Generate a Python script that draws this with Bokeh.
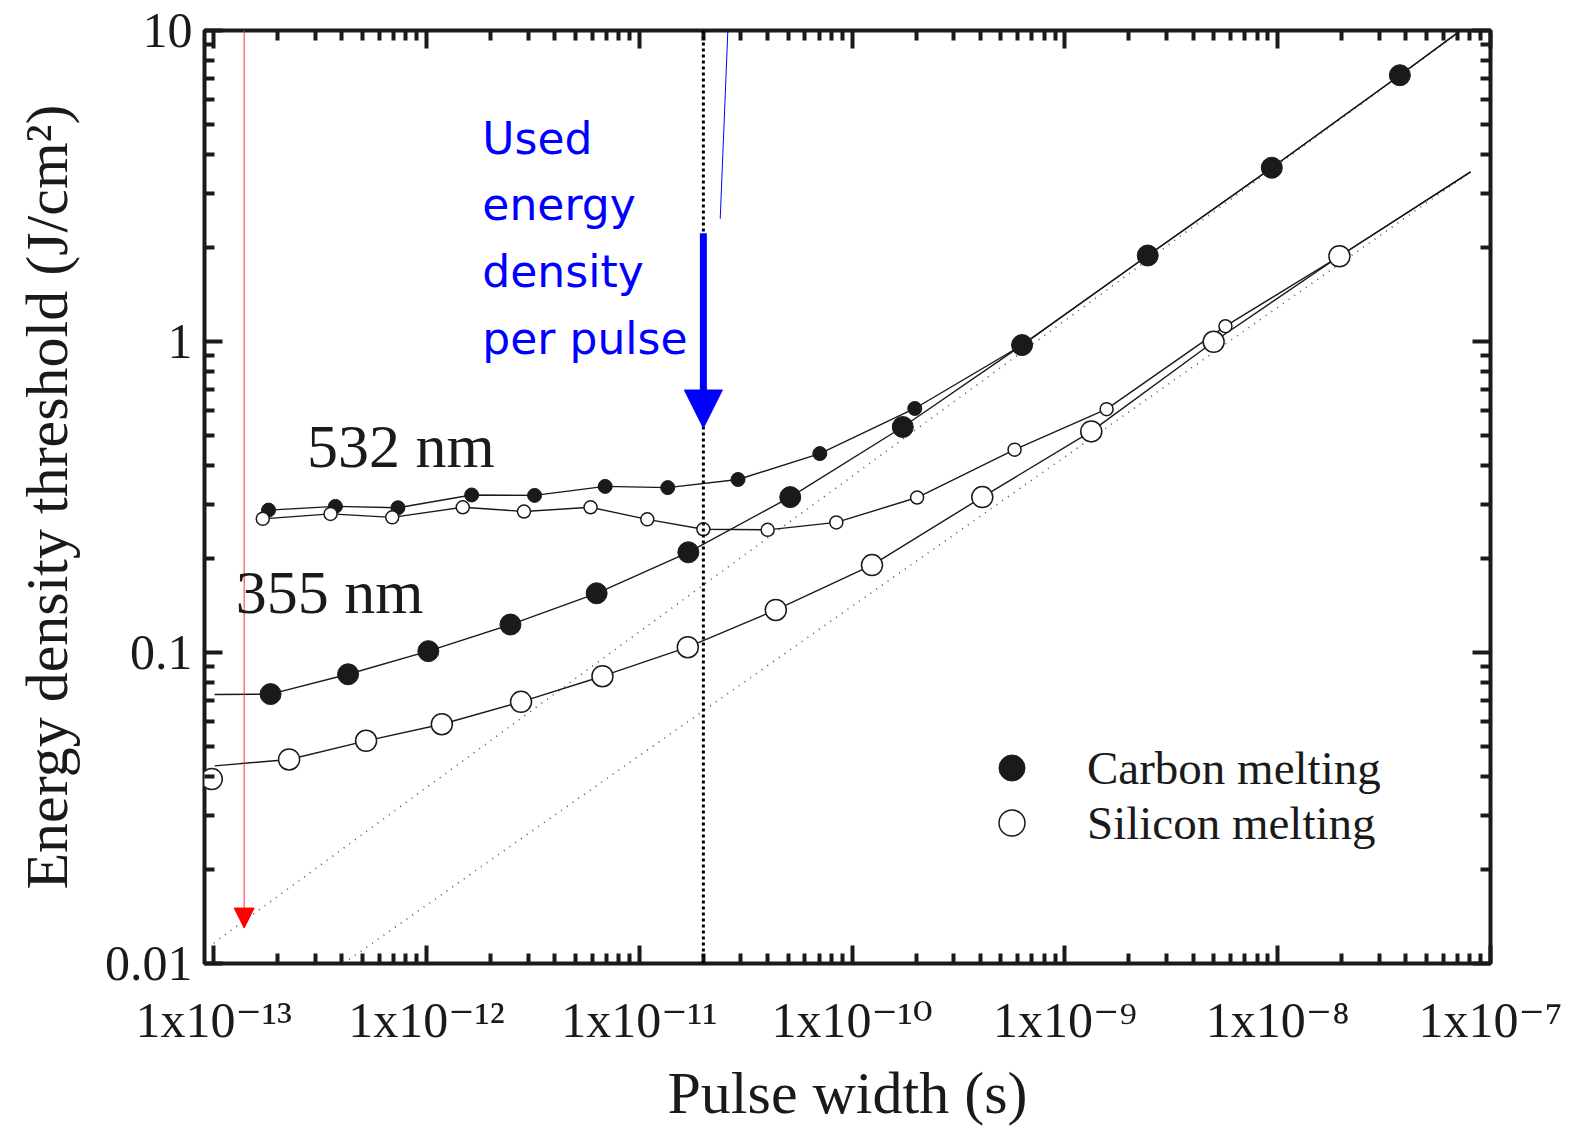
from bokeh.plotting import figure
from bokeh.models import (LogAxis, FixedTicker, Range1d, Legend, LegendItem,
                          Arrow, NormalHead, Label, Span)
from bokeh.embed import file_html
from bokeh.resources import INLINE

# ---------------- data ----------------
# 532 nm, carbon melting (small filled dots)
c532_x = [1.81e-13, 3.73e-13, 7.34e-13, 1.63e-12, 3.22e-12, 6.91e-12,
          1.36e-11, 2.91e-11, 7.05e-11, 1.97e-10]
c532_y = [0.287, 0.295, 0.292, 0.321, 0.320, 0.342, 0.339, 0.360, 0.436, 0.609]

# 532 nm, silicon melting (small open circles)
s532_x = [1.70e-13, 3.54e-13, 6.90e-13, 1.48e-12, 2.87e-12, 5.90e-12,
          1.09e-11, 2.00e-11, 4.01e-11, 8.43e-11, 2.02e-10, 5.80e-10,
          1.57e-9, 5.68e-9]
s532_y = [0.269, 0.279, 0.272, 0.293, 0.284, 0.293, 0.268, 0.249, 0.248,
          0.262, 0.315, 0.449, 0.606, 1.12]

# 355 nm, carbon melting (large filled dots)
c355_x = [1.85e-13, 4.28e-13, 1.02e-12, 2.48e-12, 6.30e-12, 1.70e-11,
          5.12e-11, 1.73e-10, 6.29e-10, 2.45e-9, 9.38e-9, 3.75e-8]
c355_y = [0.0735, 0.0851, 0.101, 0.123, 0.155, 0.210, 0.316, 0.531, 0.974,
          1.89, 3.62, 7.18]

# 355 nm, silicon melting (large open circles)
s355_x = [9.79e-14, 2.26e-13, 5.20e-13, 1.18e-12, 2.78e-12, 6.71e-12,
          1.69e-11, 4.38e-11, 1.24e-10, 4.09e-10, 1.33e-9, 5.00e-9, 1.95e-8]
s355_y = [0.0392, 0.0453, 0.0520, 0.0588, 0.0694, 0.0839, 0.104, 0.137,
          0.191, 0.316, 0.514, 0.998, 1.88]

# fitted 355 nm curves: start / end points
c355_fit_ends_x = [1.01e-13, 7.83e-8]
c355_fit_ends_y = [0.0733, 10.4]
s355_fit_ends_x = [1.01e-13, 8.06e-8]
s355_fit_ends_y = [0.0432, 3.51]

# dotted long-pulse asymptotes (E ~ t^0.5)
asym_c_x = [1.00e-13, 7.31e-8]
asym_c_y = [0.01163, 10.0]
asym_s_x = [4.07e-13, 8.06e-8]
asym_s_y = [0.0100, 3.51]

# annotation: used pulse width and energy density
used_pulse = 2.0e-11
used_arrow_y = [2.23, 0.527]
red_arrow_x = 1.39e-13
red_arrow_y = [12.4, 0.0130]
blue_line_x = [2.40e-11, 2.64e-11]
blue_line_y = [2.48, 12.4]
note_lines = ["Used", "energy", "density", "per pulse"]
note_x = 1.83e-12
note_y = [4.50, 2.75, 1.68, 1.025]

# ticks
xticks = [1e-13, 1e-12, 1e-11, 1e-10, 1e-9, 1e-8, 1e-7]
xtick_labels = ["1x10\u207b\u00b9\u00b3", "1x10\u207b\u00b9\u00b2",
                "1x10\u207b\u00b9\u00b9", "1x10\u207b\u00b9\u2070",
                "1x10\u207b\u2079", "1x10\u207b\u2078", "1x10\u207b\u2077"]
yticks = [0.01, 0.1, 1.0, 10.0]
ytick_labels = ["0.01", "0.1", "1", "10"]

x_minor = [m * 10.0 ** e for e in range(-14, -6) for m in range(2, 10)]
y_minor = [m * 10.0 ** e for e in range(-3, 2) for m in range(2, 10)]

INK = "#1a1a1a"
SERIF = "Liberation Serif"
SERIF_STACK = "'Liberation Serif', 'DejaVu Serif', serif"

# ---------------- figure ----------------
p = figure(width=1574, height=1128, x_axis_type="log", y_axis_type="log",
           x_range=Range1d(9.05e-14, 1e-7), y_range=Range1d(0.01, 10),
           output_backend="svg", toolbar_location=None,
           min_border_left=204, min_border_right=84,
           min_border_top=30, min_border_bottom=165)
p.background_fill_color = "white"
p.border_fill_color = "white"
p.xgrid.visible = False
p.ygrid.visible = False
p.outline_line_color = INK
p.outline_line_width = 4


def style_axis(ax, ticks, minor, labels=None):
    ax.ticker = FixedTicker(ticks=ticks, minor_ticks=minor)
    ax.axis_line_color = None
    ax.major_tick_in = 18
    ax.major_tick_out = 0
    ax.minor_tick_in = 10
    ax.minor_tick_out = 0
    ax.major_tick_line_width = 4
    ax.minor_tick_line_width = 4
    ax.major_tick_line_color = INK
    ax.minor_tick_line_color = INK
    if labels is None:
        ax.major_label_text_font_size = "2px"
        ax.major_label_text_color = None
        ax.major_label_standoff = 0
    else:
        ax.major_label_overrides = {t: l for t, l in zip(ticks, labels)}
        ax.major_label_text_font = SERIF_STACK
        ax.major_label_text_font_size = "50px"
        ax.major_label_text_color = INK
    ax.axis_label_text_font = SERIF
    ax.axis_label_text_font_style = "normal"
    ax.axis_label_text_font_size = "60px"
    ax.axis_label_text_color = INK


style_axis(p.xaxis[0], xticks, x_minor, xtick_labels)
style_axis(p.yaxis[0], yticks, y_minor, ytick_labels)
p.xaxis[0].axis_label = "Pulse width (s)"
p.yaxis[0].axis_label = "Energy density threshold (J/cm\u00b2)"
p.xaxis[0].major_label_standoff = 28
p.xaxis[0].axis_label_standoff = 9
p.yaxis[0].major_label_standoff = 12
p.yaxis[0].axis_label_standoff = 22

top_ax = LogAxis()
style_axis(top_ax, xticks, x_minor)
p.add_layout(top_ax, "above")
right_ax = LogAxis()
style_axis(right_ax, yticks, y_minor)
p.add_layout(right_ax, "right")

# dotted asymptotes
p.line(asym_c_x, asym_c_y, line_color="#555555", line_width=1.6, line_dash="1 6")
p.line(asym_s_x, asym_s_y, line_color="#555555", line_width=1.6, line_dash="1 6")

# connecting lines / fits
c532_line_x = c532_x + c355_x[8:] + c355_fit_ends_x[1:]
c532_line_y = c532_y + c355_y[8:] + c355_fit_ends_y[1:]
s532_line_x = s532_x + s355_x[12:] + s355_fit_ends_x[1:]
s532_line_y = s532_y + s355_y[12:] + s355_fit_ends_y[1:]
c355_line_x = c355_fit_ends_x[:1] + c355_x + c355_fit_ends_x[1:]
c355_line_y = c355_fit_ends_y[:1] + c355_y + c355_fit_ends_y[1:]
s355_line_x = s355_fit_ends_x[:1] + s355_x[1:] + s355_fit_ends_x[1:]
s355_line_y = s355_fit_ends_y[:1] + s355_y[1:] + s355_fit_ends_y[1:]

for lx, ly in [(c532_line_x, c532_line_y), (s532_line_x, s532_line_y),
               (c355_line_x, c355_line_y), (s355_line_x, s355_line_y)]:
    p.line(lx, ly, line_color=INK, line_width=1.4)

# markers
r_c532 = p.scatter(c532_x, c532_y, size=14, marker="circle",
                   fill_color=INK, line_color=INK)
r_s532 = p.scatter(s532_x, s532_y, size=13, marker="circle",
                   fill_color="white", line_color=INK, line_width=1.5)
r_c355 = p.scatter(c355_x, c355_y, size=21, marker="circle",
                   fill_color=INK, line_color=INK)
r_s355 = p.scatter(s355_x, s355_y, size=21, marker="circle",
                   fill_color="white", line_color=INK, line_width=1.5)

# vertical dotted line at the used pulse width
p.add_layout(Span(location=used_pulse, dimension="height", line_color="black",
                  line_width=3, line_dash="3 3"))

# blue arrow
p.add_layout(Arrow(x_start=used_pulse, y_start=used_arrow_y[0],
                   x_end=used_pulse, y_end=used_arrow_y[1],
                   line_color="#0000ff", line_width=7,
                   end=NormalHead(size=38, fill_color="#0000ff",
                                  line_color="#0000ff", line_width=1)))
# blue thin pointer line
p.line(blue_line_x, blue_line_y, line_color="#0000ff", line_width=1)

# red arrow
p.add_layout(Arrow(x_start=red_arrow_x, y_start=red_arrow_y[0],
                   x_end=red_arrow_x, y_end=red_arrow_y[1],
                   line_color="#ff3030", line_width=1,
                   end=NormalHead(size=20, fill_color="red",
                                  line_color="red", line_width=1)))

# text annotations
for t, yy in zip(note_lines, note_y):
    p.add_layout(Label(x=note_x, y=yy, text=t, text_font="DejaVu Sans",
                       text_font_size="44px", text_color="#0000ff",
                       text_baseline="alphabetic", text_align="left"))
p.add_layout(Label(x=2.74e-13, y=0.462, text="532 nm", text_font=SERIF,
                   text_font_size="62px", text_color=INK,
                   text_baseline="alphabetic"))
p.add_layout(Label(x=1.27e-13, y=0.156, text="355 nm", text_font=SERIF,
                   text_font_size="62px", text_color=INK,
                   text_baseline="alphabetic"))

# legend (one box per entry so the row pitch matches the original)
legend_style = dict(orientation="vertical", glyph_width=65, glyph_height=65,
                    label_standoff=43, padding=0, margin=0, spacing=0,
                    border_line_color=None, background_fill_alpha=0,
                    label_text_font=SERIF, label_text_font_size="47px",
                    label_text_color=INK)
leg_c = Legend(items=[LegendItem(label="Carbon melting", renderers=[r_c355])],
               location=(775, 163), **legend_style)
leg_s = Legend(items=[LegendItem(label="Silicon melting", renderers=[r_s355])],
               location=(775, 108), **legend_style)
p.add_layout(leg_c, "center")
p.add_layout(leg_s, "center")

open("out.html", "w").write(file_html(p, INLINE))
